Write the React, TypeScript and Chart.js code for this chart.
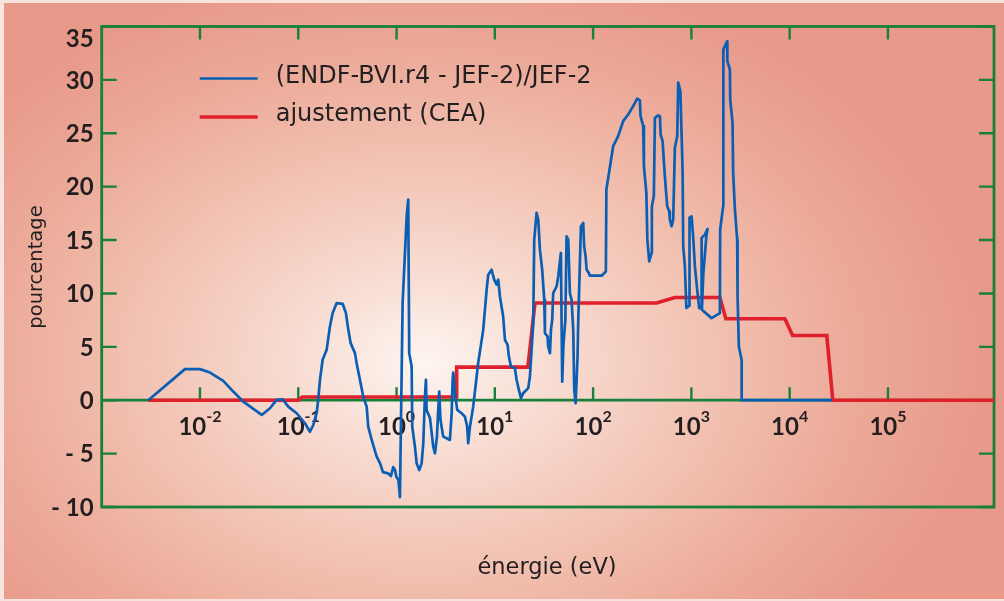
import React, { useEffect, useRef } from "react";
import { Chart, registerables } from "chart.js";

Chart.register(...registerables);

// ---- data ----
const seriesLabels = ["(ENDF-BVI.r4 - JEF-2)/JEF-2", "ajustement (CEA)"];
const xTitle = "énergie (eV)";
const yTitle = "pourcentage";

const xTickExponents = [-2, -1, 0, 1, 2, 3, 4, 5];
const yTickValues = [35, 30, 25, 20, 15, 10, 5, 0, -5, -10];
const yTickLabels = ["35", "30", "25", "20", "15", "10", "5", "0", "- 5", "- 10"];

const xMin = 0.001;
const xMax = 1.2e6;
const yMin = -10;
const yMax = 35;

// (ENDF-BVI.r4 - JEF-2)/JEF-2 : energy (eV) and percentage
const blueEnergy = [
  0.00298, 0.00703, 0.01, 0.01265, 0.01726, 0.02183, 0.02757, 0.04246, 0.0515, 0.0603,
  0.0693, 0.0791, 0.0964, 0.117, 0.1315, 0.1422, 0.1538, 0.1596, 0.1663, 0.177,
  0.1945, 0.21, 0.2239, 0.246, 0.283, 0.3055, 0.323, 0.341, 0.3776, 0.3926,
  0.4246, 0.458, 0.4966, 0.515, 0.5585, 0.628, 0.678, 0.728, 0.818, 0.877,
  0.925, 0.964, 0.998, 1.045, 1.083, 1.153, 1.268, 1.315, 1.346, 1.425,
  1.445, 1.538, 1.602, 1.702, 1.8, 1.871, 1.945, 1.991, 2.023, 2.188,
  2.362, 2.46, 2.576, 2.655, 2.718, 2.8, 2.985, 3.236, 3.49, 3.64,
  3.72, 3.776, 3.926, 4.15, 4.59, 4.966, 5.236, 5.358, 5.585, 6.026,
  6.776, 7.62, 8.26, 8.57, 9.27, 9.86, 10.43, 10.83, 11.27, 12.16,
  12.68, 13.49, 13.9, 14.59, 16.0, 16.67, 17.58, 18.45, 19.45, 21.88,
  22.75, 23.66, 24.6, 25.18, 26.6, 27.67, 28.77, 30.34, 31.84, 32.36,
  34.43, 34.9, 36.39, 37.24, 38.37, 39.26, 42.56, 44.16, 47.0, 48.5,
  49.9, 52.2, 53.7, 55.85, 58.07, 60.4, 62.8, 64.27, 66.37, 69.5,
  70.5, 73.4, 75.2, 79.3, 81.1, 83.9, 85.9, 90.6, 92.7, 122.2,
  134.9, 136.5, 160.0, 179.9, 202.3, 227.5, 255.9, 281.2, 299.2, 304.1,
  323.6, 328.9, 348.3, 356.5, 372.4, 393.6, 396.3, 415.0, 425.6, 459.2,
  478.6, 486.3, 509.3, 537.0, 567.5, 594.3, 603.9, 629.5, 653.1, 679.2,
  717.8, 734.5, 773.2, 794.3, 814.7, 826.0, 859.0, 889.2, 950.6, 957.2,
  1005, 1042, 1086, 1146, 1200, 1265, 1271, 1371, 1462, 1422,
  1324, 1279, 1604, 1950, 1963, 2104, 2115, 2312, 2323, 2466,
  2483, 2624, 2661, 2773, 2924, 2951, 3041, 3243, 3250, 26900,
];
const blueValue = [
  0, 2.91, 2.91, 2.59, 1.81, 0.81, -0.13, -1.38, -0.75, 0.03,
  0.09, -0.6, -1.22, -2.16, -2.95, -2.32, -1.22, 0.03, 1.9, 3.78,
  4.72, 6.9, 8.16, 9.1, 9.03, 8.16, 6.59, 5.35, 4.41, 3.47,
  1.9, 0.34, -0.6, -2.48, -3.72, -5.29, -5.88, -6.73, -6.85, -7.1,
  -6.26, -6.54, -7.2, -7.48, -9.07, 9.1, 17.22, 18.79, 4.41, 3.15,
  -2.48, -4.35, -5.91, -6.54, -5.91, -4.03, 0.34, 1.9, -0.91, -1.66,
  -4.35, -4.97, -3.41, -0.91, 0.81, -1.85, -3.41, -3.56, -3.72, -1.22,
  1.9, 2.59, 0.66, -0.91, -1.22, -1.54, -2.48, -4.03, -2.48, -0.6,
  3.5, 6.59, 10.35, 11.75, 12.22, 11.29, 10.82, 11.29, 9.72, 7.84,
  5.66, 5.19, 4.09, 3.15, 3.0, 1.9, 0.97, 0.19, 0.66, 1.13,
  2.21, 4.72, 7.22, 15.04, 17.54, 16.91, 14.1, 12.22, 9.41, 6.29,
  5.97, 5.03, 4.41, 6.59, 7.53, 10.04, 10.66, 11.59, 13.79, 1.74,
  5.19, 7.53, 15.35, 15.04, 10.04, 9.41, 6.59, 0.97, -0.28, 4.09,
  7.22, 12.85, 16.28, 16.6, 14.41, 13.47, 12.22, 11.91, 11.66, 11.66,
  12.06, 19.73, 23.79, 24.73, 26.14, 26.76, 27.54, 28.24, 28.08, 26.6,
  25.67, 21.91, 19.42, 15.04, 13.0, 13.79, 18.16, 19.1, 26.45, 26.67,
  26.6, 24.89, 24.26, 20.98, 18.16, 17.69, 16.91, 16.29, 16.91, 23.64,
  24.73, 29.74, 28.92, 25.05, 21.29, 14.41, 12.53, 8.63, 8.85, 17.1,
  17.22, 15.35, 12.53, 10.35, 8.63, 8.63, 15.2, 15.51, 16.04, 15.41,
  11.91, 8.47, 7.69, 8.16, 15.98, 18.16, 32.86, 33.6, 31.76, 30.98,
  28.17, 25.98, 21.29, 17.85, 15.04, 9.72, 5.03, 3.78, 0, 0,
];

// ajustement (CEA)
const redEnergy = [0.00296, 0.1, 0.11, 4.08, 4.09, 21.7, 25.6, 443.6, 679, 1950, 2244, 8933, 10720, 23880, 27480, 1.2e6];
const redValue = [0, 0, 0.3, 0.3, 3.1, 3.1, 9.1, 9.1, 9.62, 9.62, 7.63, 7.63, 6.06, 6.06, 0, 0];

// ---- styles ----
const NUM_FONT = "Lato, 'DejaVu Sans', sans-serif";
const TXT_FONT = "'DejaVu Sans', sans-serif";
const TEXT = "#231f20";
const GREEN = "#17803a";
const BLUE = "#0a5fb4";
const RED = "#e0202a";

const framePlugin = {
  id: "frame",
  beforeDatasetsDraw(chart: any) {
    const { ctx, chartArea } = chart;
    const xs = chart.scales.x;
    const ys = chart.scales.y;
    const { left, right, top, bottom } = chartArea;
    const zero = ys.getPixelForValue(0);
    ctx.save();
    ctx.strokeStyle = GREEN;
    ctx.lineWidth = 2.8;
    ctx.lineCap = "butt";
    ctx.strokeRect(left, top, right - left, bottom - top);
    ctx.beginPath();
    ctx.moveTo(left, zero);
    ctx.lineTo(right, zero);
    ctx.stroke();
    ctx.lineWidth = 2.4;
    ctx.beginPath();
    for (const e of xTickExponents) {
      const px = xs.getPixelForValue(Math.pow(10, e));
      ctx.moveTo(px, top);
      ctx.lineTo(px, top + 13);
      ctx.moveTo(px, zero);
      ctx.lineTo(px, zero - 13);
    }
    for (const v of yTickValues) {
      const py = ys.getPixelForValue(v);
      ctx.moveTo(left, py);
      ctx.lineTo(left + 15, py);
      ctx.moveTo(right, py);
      ctx.lineTo(right - 15, py);
    }
    ctx.stroke();

    // y tick labels
    ctx.fillStyle = TEXT;
    ctx.font = `bold 24px ${NUM_FONT}`;
    ctx.textAlign = "right";
    ctx.textBaseline = "middle";
    yTickValues.forEach((v, i) => {
      const py = Math.max(ys.getPixelForValue(v), top + 12);
      ctx.fillText(yTickLabels[i], left - 8, py + 1);
    });

    // x tick labels: 10 with superscript exponent
    ctx.textAlign = "left";
    for (const e of xTickExponents) {
      const px = xs.getPixelForValue(Math.pow(10, e));
      const base = "10";
      const sup = String(e);
      ctx.font = `bold 24px ${NUM_FONT}`;
      const w1 = ctx.measureText(base).width;
      ctx.font = `bold 16px ${NUM_FONT}`;
      const w2 = ctx.measureText(sup).width;
      const x0 = px - (w1 + w2) / 2;
      ctx.font = `bold 24px ${NUM_FONT}`;
      ctx.fillText(base, x0, zero + 27);
      ctx.font = `bold 16px ${NUM_FONT}`;
      ctx.fillText(sup, x0 + w1, zero + 17);
    }

    // axis titles
    ctx.font = `22.5px ${TXT_FONT}`;
    ctx.textAlign = "center";
    ctx.fillText(xTitle, 547, 568);
    ctx.save();
    ctx.translate(37, 267);
    ctx.rotate(-Math.PI / 2);
    ctx.font = `19.5px ${TXT_FONT}`;
    ctx.fillText(yTitle, 0, 0);
    ctx.restore();

    // legend
    const ds = chart.data.datasets;
    const legendY = [top + 52, top + 90.5];
    ds.forEach((d: any, i: number) => {
      ctx.strokeStyle = d.borderColor;
      ctx.lineWidth = d.borderWidth;
      ctx.beginPath();
      ctx.moveTo(left + 98, legendY[i]);
      ctx.lineTo(left + 156, legendY[i]);
      ctx.stroke();
      ctx.fillStyle = TEXT;
      ctx.font = `24px ${TXT_FONT}`;
      ctx.textAlign = "left";
      ctx.fillText(d.label, left + 174, legendY[i] - 2);
    });
    ctx.restore();
  },
};

export default function App() {
  const ref = useRef<HTMLCanvasElement>(null);
  useEffect(() => {
    const canvas = ref.current;
    if (!canvas) return;
    const blueData = blueEnergy.map((e, i) => ({ x: e, y: blueValue[i] }));
    const redData = redEnergy.map((e, i) => ({ x: e, y: redValue[i] }));
    const chart = new Chart(canvas, {
      type: "line",
      data: {
        datasets: [
          {
            label: seriesLabels[0],
            data: blueData,
            borderColor: BLUE,
            borderWidth: 2.7,
            pointRadius: 0,
            tension: 0,
            fill: false,
            borderJoinStyle: "round",
          },
          {
            label: seriesLabels[1],
            data: redData,
            borderColor: RED,
            borderWidth: 3.6,
            pointRadius: 0,
            tension: 0,
            fill: false,
            borderJoinStyle: "miter",
          },
        ],
      },
      options: {
        animation: false,
        responsive: false,
        devicePixelRatio: 1,
        layout: { padding: { left: 101.7, right: 10, top: 26.5, bottom: 94 } },
        plugins: { legend: { display: false }, tooltip: { enabled: false }, title: { display: false } },
        events: [],
        scales: {
          x: { type: "logarithmic", min: xMin, max: xMax, display: false },
          y: { type: "linear", min: yMin, max: yMax, display: false },
        },
      },
      plugins: [framePlugin],
    } as any);
    return () => chart.destroy();
  }, []);

  return (
    <div style={{ position: "absolute", left: 0, top: 0, width: 1004, height: 601, background: "#f8e4dc", overflow: "hidden" }}>
      <div
        style={{
          position: "absolute",
          left: 4,
          top: 3,
          right: 0,
          bottom: 2,
          background:
            "radial-gradient(ellipse 560px 400px at 420px 360px, #fdf5f1 0%, #f8ddd3 22%, #f2c3b3 50%, #eca998 78%, #e8998a 100%)",
        }}
      />
      <canvas ref={ref} width={1004} height={601} style={{ position: "absolute", left: 0, top: 0, width: 1004, height: 601 }} />
    </div>
  );
}
